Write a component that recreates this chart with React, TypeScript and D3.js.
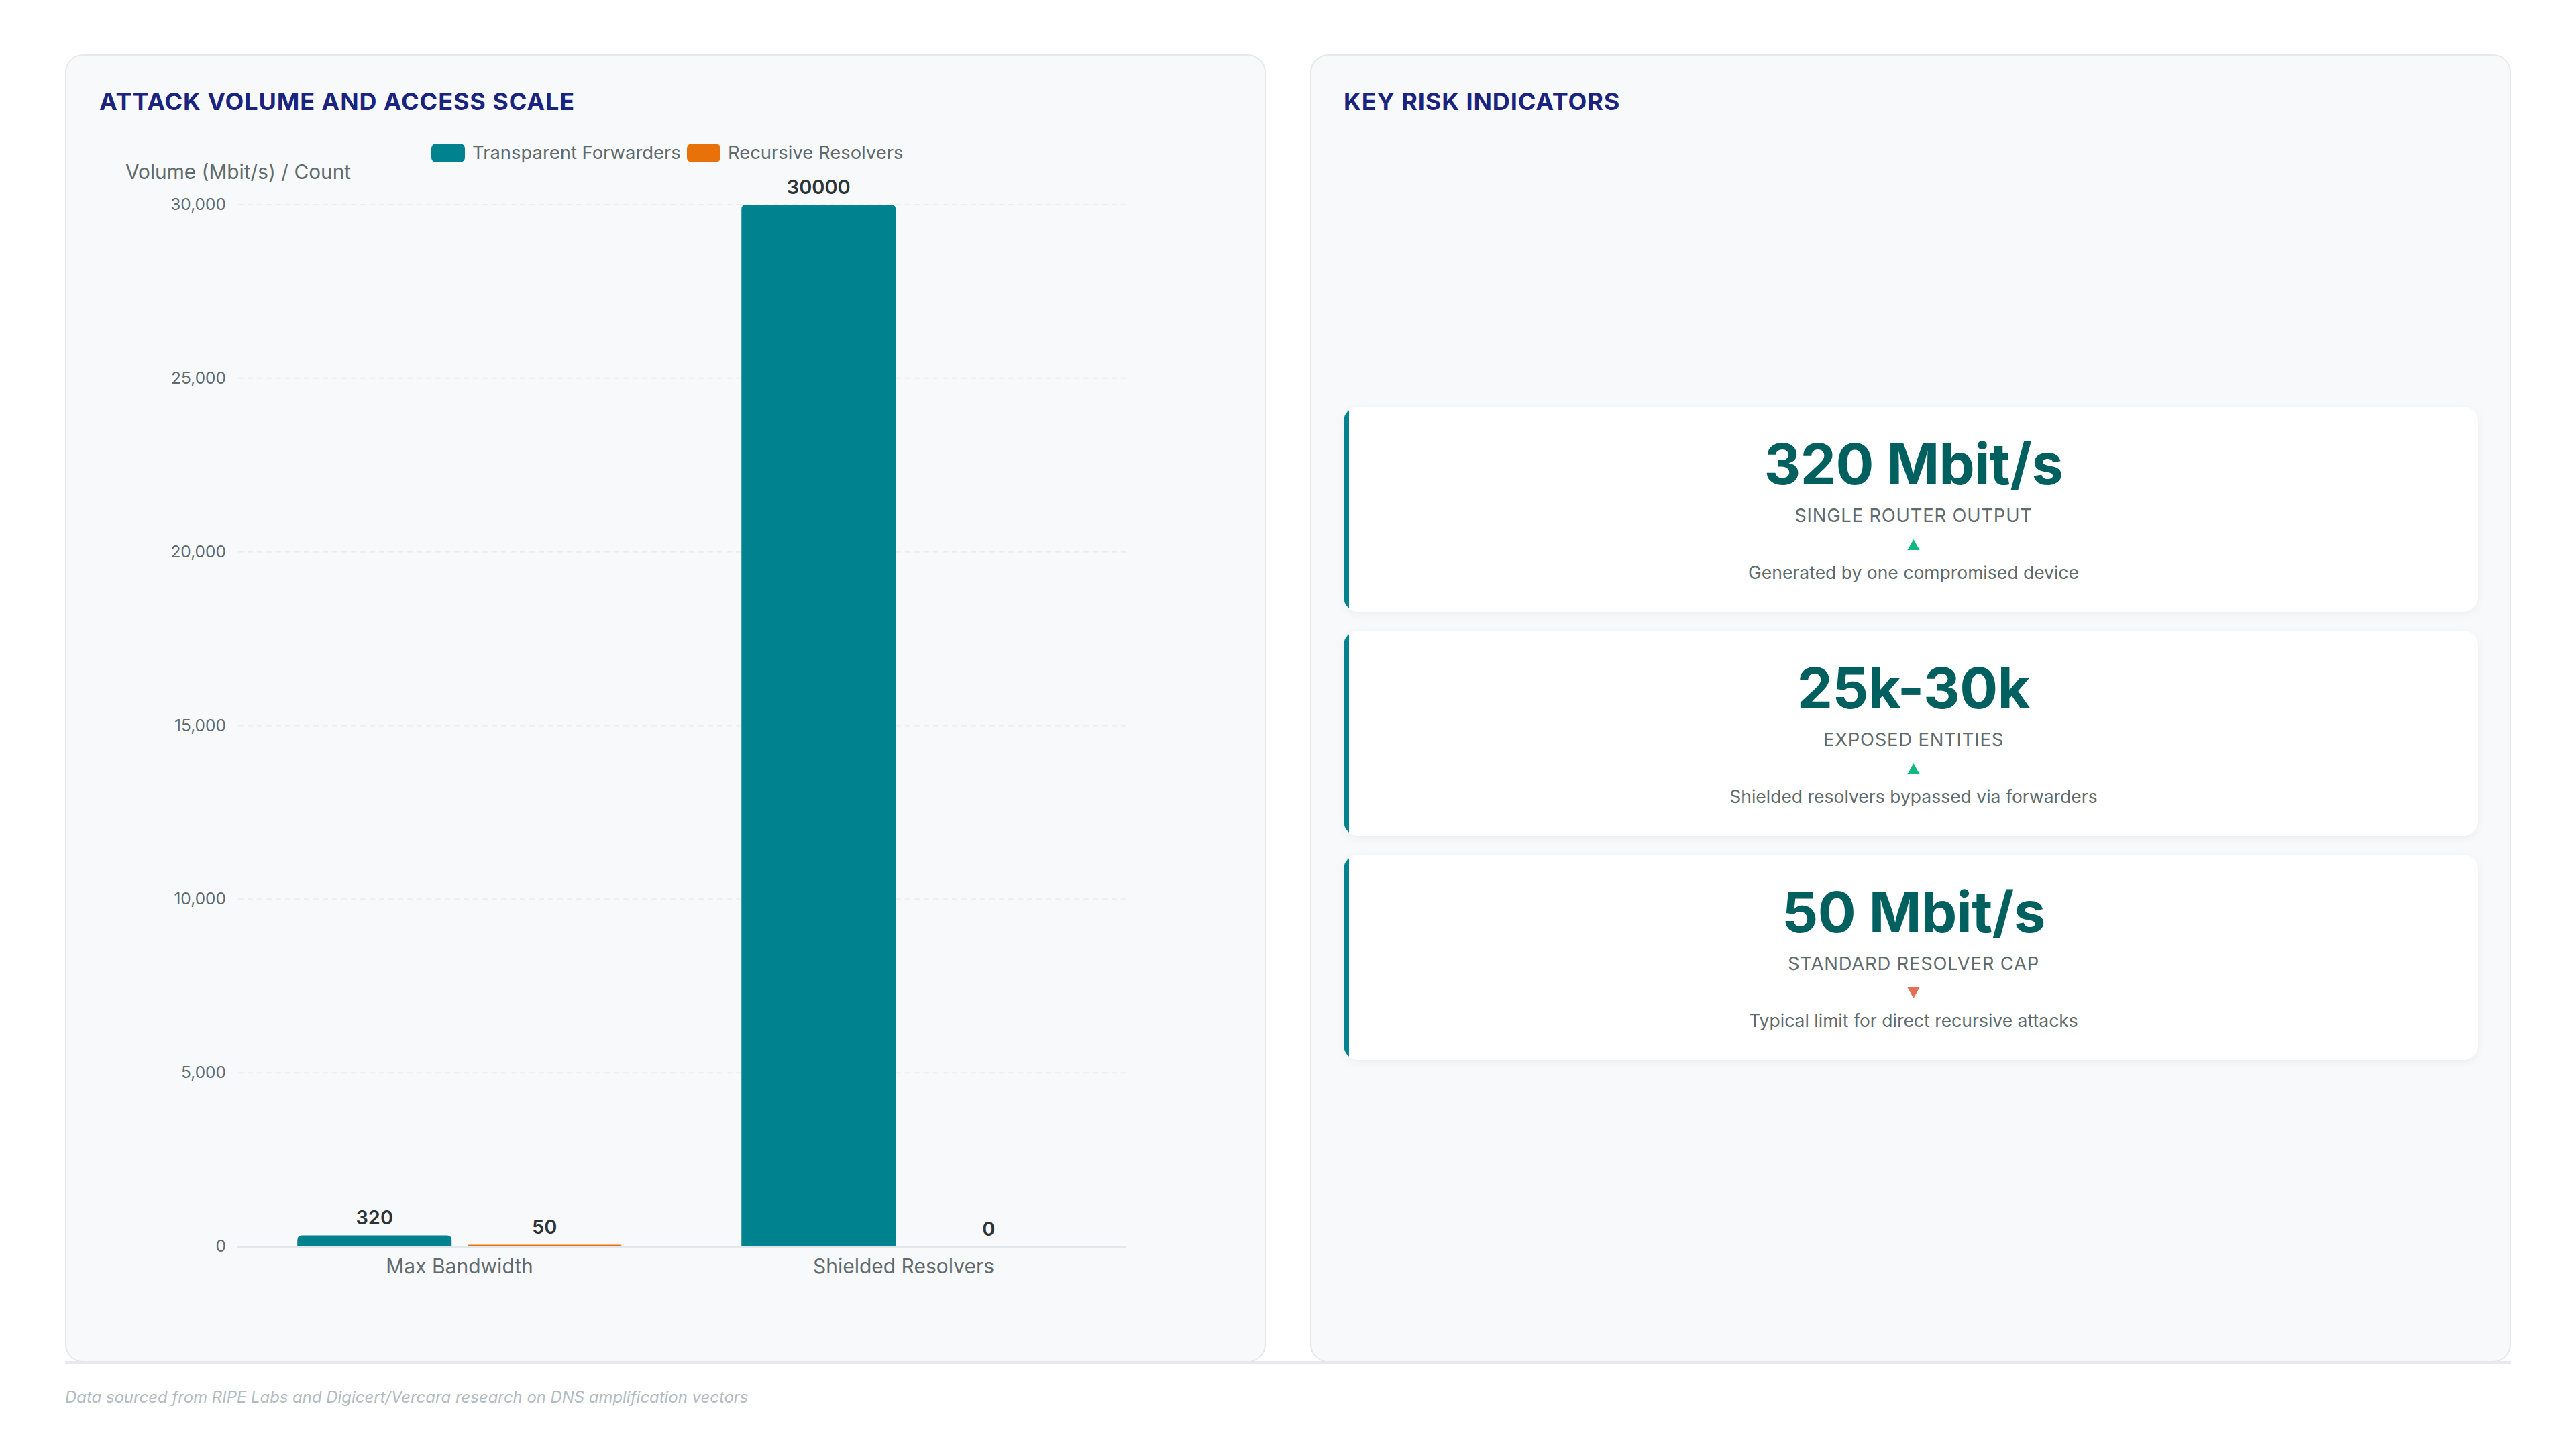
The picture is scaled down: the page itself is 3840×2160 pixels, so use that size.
import React from 'react';
import * as d3 from 'd3';

const categories = ['Max Bandwidth', 'Shielded Resolvers'];
const seriesNames = ['Transparent Forwarders', 'Recursive Resolvers'];
const transparentForwarders = [320, 30000];
const recursiveResolvers = [50, 0];
const yTicks = [0, 5000, 10000, 15000, 20000, 25000, 30000];
const seriesColors = ['#00838f', '#e8710a'];

const kpiValues = ['320 Mbit/s', '25k-30k', '50 Mbit/s'];
const kpiLabels = ['SINGLE ROUTER OUTPUT', 'EXPOSED ENTITIES', 'STANDARD RESOLVER CAP'];
const kpiTrends = ['up', 'up', 'down'];
const kpiDescriptions = [
  'Generated by one compromised device',
  'Shielded resolvers bypassed via forwarders',
  'Typical limit for direct recursive attacks',
];

const FONT = "Inter, 'Noto Sans', 'DejaVu Sans', sans-serif";

function topRoundedBar(x: number, y: number, w: number, h: number, r: number) {
  const rr = Math.max(0, Math.min(r, h, w / 2));
  return `M${x},${y + h}L${x},${y + rr}Q${x},${y} ${x + rr},${y}L${x + w - rr},${y}Q${x + w},${y} ${x + w},${y + rr}L${x + w},${y + h}Z`;
}

export default function App() {
  const W = 3840;
  const H = 2160;

  const plotLeft = 354;
  const plotRight = 1678;
  const yScale = d3.scaleLinear().domain([0, 30000]).range([1858, 305]);
  const x0 = d3.scaleBand<string>().domain(categories).range([plotLeft, plotRight]).padding(0);
  const bw = x0.bandwidth();
  const x1 = d3
    .scaleBand<string>()
    .domain(seriesNames)
    .range([bw * 0.117, bw * 0.883])
    .paddingInner(0.093)
    .paddingOuter(0.0465);
  const fmt = d3.format(',');

  const seriesData = [transparentForwarders, recursiveResolvers];

  const legendX = [643, 1024];

  const cardX = 2003;
  const cardW = 3694 - 2003;
  const cardTops = [606, 940, 1274];
  const cardH = 306;
  const cardCx = cardX + 8 + (cardW - 8) / 2;

  return (
    <div style={{ position: 'absolute', left: 0, top: 0, width: W, height: H, background: '#ffffff' }}>
      <svg width={W} height={H} style={{ display: 'block' }} fontFamily={FONT}>
        <defs>
          <filter id="cardShadow" x="-5%" y="-20%" width="110%" height="140%">
            <feDropShadow dx="0" dy="3" stdDeviation="6" floodColor="#000" floodOpacity="0.05" />
          </filter>
          {cardTops.map((t, i) => (
            <clipPath id={`cardClip${i}`} key={i}>
              <rect x={cardX} y={t} width={cardW} height={cardH} rx={22} ry={22} />
            </clipPath>
          ))}
        </defs>

        <rect x={0} y={0} width={W} height={H} fill="#ffffff" />

        {/* bottom rule */}
        <rect x={97} y={2029} width={3743 - 97} height={4} fill="#e6e9ed" />

        {/* Panels */}
        <rect x={98} y={82} width={1788} height={1948} rx={26} ry={26} fill="#f8f9fb" stroke="#e6e8eb" strokeWidth={2} />
        <rect x={1954} y={82} width={1788} height={1948} rx={26} ry={26} fill="#f8f9fb" stroke="#e6e8eb" strokeWidth={2} />

        {/* Titles */}
        <text x={148} y={164} fontSize={36} fontWeight={700} fill="#1a237e" letterSpacing={0.9}>
          ATTACK VOLUME AND ACCESS SCALE
        </text>
        <text x={2003} y={164} fontSize={36} fontWeight={700} fill="#1a237e" letterSpacing={0.9}>
          KEY RISK INDICATORS
        </text>

        {/* Legend */}
        {seriesNames.map((s, i) => (
          <g key={s}>
            <rect x={legendX[i]} y={214} width={50} height={28} rx={7} ry={7} fill={seriesColors[i]} />
            <text x={legendX[i] + 61} y={237} fontSize={27.4} fill="#5f6b6d">
              {s}
            </text>
          </g>
        ))}

        {/* Y axis title */}
        <text x={355} y={267} fontSize={29.8} fill="#5f6b6d" textAnchor="middle">
          Volume (Mbit/s) / Count
        </text>

        {/* Grid & ticks */}
        {yTicks.map((t) => (
          <g key={t}>
            {t !== 0 && (
              <line
                x1={plotLeft + 1}
                x2={plotRight}
                y1={yScale(t)}
                y2={yScale(t)}
                stroke="#eceef1"
                strokeWidth={2}
                strokeDasharray="8 6"
              />
            )}
            <text x={337} y={yScale(t) + 8} fontSize={24.5} fill="#5f6b6d" textAnchor="end">
              {fmt(t)}
            </text>
          </g>
        ))}

        {/* Bars */}
        {categories.map((c, ci) => (
          <g key={c}>
            {seriesNames.map((s, si) => {
              const v = seriesData[si][ci];
              const bx = (x0(c) as number) + (x1(s) as number);
              const w = x1.bandwidth();
              const top = yScale(v);
              const h = yScale(0) - top;
              return (
                <g key={s}>
                  {h > 0 && <path d={topRoundedBar(bx, top, w, h, 7)} fill={seriesColors[si]} />}
                  <text
                    x={bx + w / 2}
                    y={top - 16}
                    fontSize={29}
                    fontWeight={600}
                    fill="#2d3436"
                    textAnchor="middle"
                  >
                    {v}
                  </text>
                </g>
              );
            })}
            <text
              x={(x0(c) as number) + bw / 2}
              y={1898}
              fontSize={30}
              fill="#5f6b6d"
              textAnchor="middle"
            >
              {c}
            </text>
          </g>
        ))}

        {/* Zero axis line */}
        <line x1={plotLeft} x2={plotRight} y1={yScale(0) + 1} y2={yScale(0) + 1} stroke="#e4e7ea" strokeWidth={2.5} />

        {/* KPI cards */}
        {cardTops.map((t, i) => {
          const up = kpiTrends[i] === 'up';
          const triTop = t + 198;
          const triBot = t + 214;
          const tri = up
            ? `M${cardCx - 9},${triBot}L${cardCx + 9},${triBot}L${cardCx},${triTop}Z`
            : `M${cardCx - 9},${triTop}L${cardCx + 9},${triTop}L${cardCx},${triBot}Z`;
          return (
            <g key={i}>
              <rect x={cardX} y={t} width={cardW} height={cardH} rx={22} ry={22} fill="#ffffff" filter="url(#cardShadow)" />
              <g clipPath={`url(#cardClip${i})`}>
                <rect x={cardX} y={t} width={8} height={cardH} fill="#00838f" />
              </g>
              <text x={cardCx} y={t + 116} fontSize={84.5} fontWeight={700} fill="#00605f" textAnchor="middle" letterSpacing={-0.5}>
                {kpiValues[i]}
              </text>
              <text x={cardCx} y={t + 172} fontSize={27.4} fill="#5f6b6d" textAnchor="middle" letterSpacing={0.8}>
                {kpiLabels[i]}
              </text>
              <path d={tri} fill={up ? '#10b981' : '#e17055'} />
              <text x={cardCx} y={t + 257} fontSize={26.5} fill="#5f6b6d" textAnchor="middle">
                {kpiDescriptions[i]}
              </text>
            </g>
          );
        })}

        {/* Footer */}
        <text x={97} y={2091} fontSize={23.9} fontStyle="italic" fill="#b2bac2">
          Data sourced from RIPE Labs and Digicert/Vercara research on DNS amplification vectors
        </text>
      </svg>
    </div>
  );
}
